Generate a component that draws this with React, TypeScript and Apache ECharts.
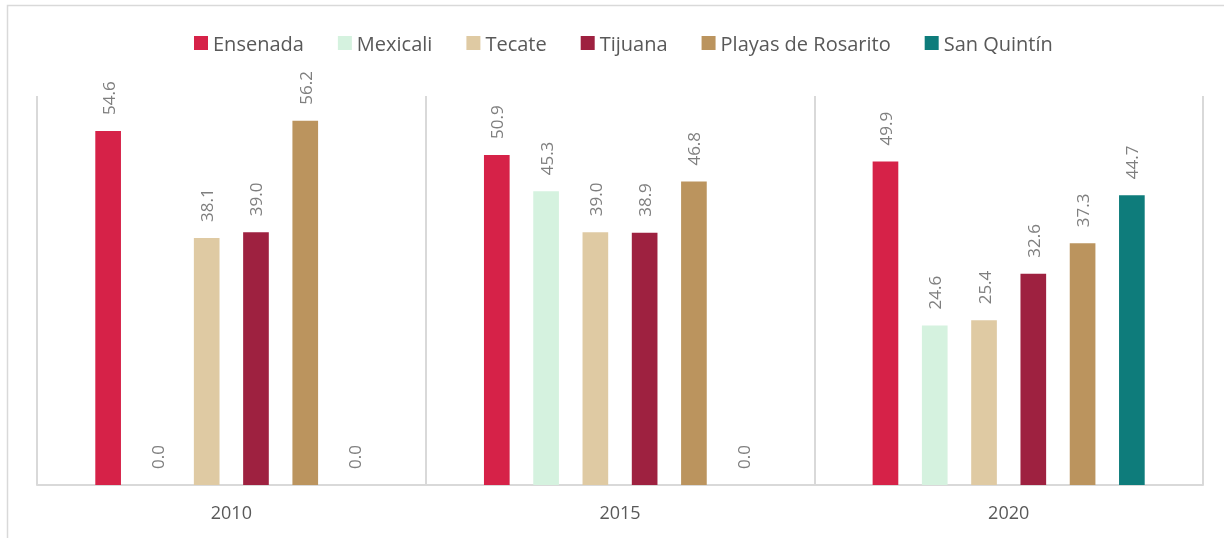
import React, { useEffect, useRef } from "react";
import * as echarts from "echarts";

const years = ["2010", "2015", "2020"];
const seriesNames = ["Ensenada", "Mexicali", "Tecate", "Tijuana", "Playas de Rosarito", "San Quintín"];
const ensenada = [54.6, 50.9, 49.9];
const mexicali = [0.0, 45.3, 24.6];
const tecate = [38.1, 39.0, 25.4];
const tijuana = [39.0, 38.9, 32.6];
const playas = [56.2, 46.8, 37.3];
const sanQuintin = [0.0, 0.0, 44.7];
const colors = ["#D62248", "#D5F2DF", "#DFCAA3", "#9E2140", "#BB945E", "#0E7C7B"];

export default function App() {
  const ref = useRef<HTMLDivElement>(null);
  useEffect(() => {
    if (!ref.current) return;
    const chart = echarts.init(ref.current, null, { renderer: "svg" });
    const data = [ensenada, mexicali, tecate, tijuana, playas, sanQuintin];
    const font = "'Open Sans', sans-serif";
    chart.setOption({
      animation: false,
      textStyle: { fontFamily: font },
      graphic: [
        {
          type: "rect",
          shape: { x: 7.5, y: 5.5, width: 1300, height: 600 },
          style: { fill: "none", stroke: "#d9d9d9", lineWidth: 1.5 },
          silent: true,
        },
      ],
      legend: {
        top: 28,
        left: 189,
        icon: "rect",
        itemWidth: 14,
        itemHeight: 14,
        itemGap: 34,
        textStyle: { fontSize: 20, color: "#595959", fontFamily: font },
        data: seriesNames,
      },
      grid: { left: 37, right: 21, top: 96, bottom: 53 },
      xAxis: {
        type: "category",
        data: years,
        axisLine: { show: true, lineStyle: { color: "#d9d9d9", width: 2 } },
        axisTick: { show: false },
        splitLine: { show: true, lineStyle: { color: "#d9d9d9", width: 2 } },
        axisLabel: { color: "#595959", fontSize: 18, margin: 18, fontFamily: font },
      },
      yAxis: {
        type: "value",
        min: 0,
        max: 60,
        show: false,
        splitLine: { show: false },
      },
      series: seriesNames.map((name, i) => ({
        name,
        type: "bar",
        data: data[i],
        barGap: "92%",
        barCategoryGap: "30%",
        itemStyle: { color: colors[i] },
        label: {
          show: true,
          position: "top",
          rotate: 90,
          align: "left",
          verticalAlign: "middle",
          distance: 16,
          color: "#7f7f7f",
          fontSize: 17,
          fontFamily: font,
          formatter: (p: any) => Number(p.value).toFixed(1),
        },
      })),
    });
    return () => chart.dispose();
  }, []);
  return <div ref={ref} style={{ position: "fixed", left: 0, top: 0, width: 1224, height: 538 }} />;
}
